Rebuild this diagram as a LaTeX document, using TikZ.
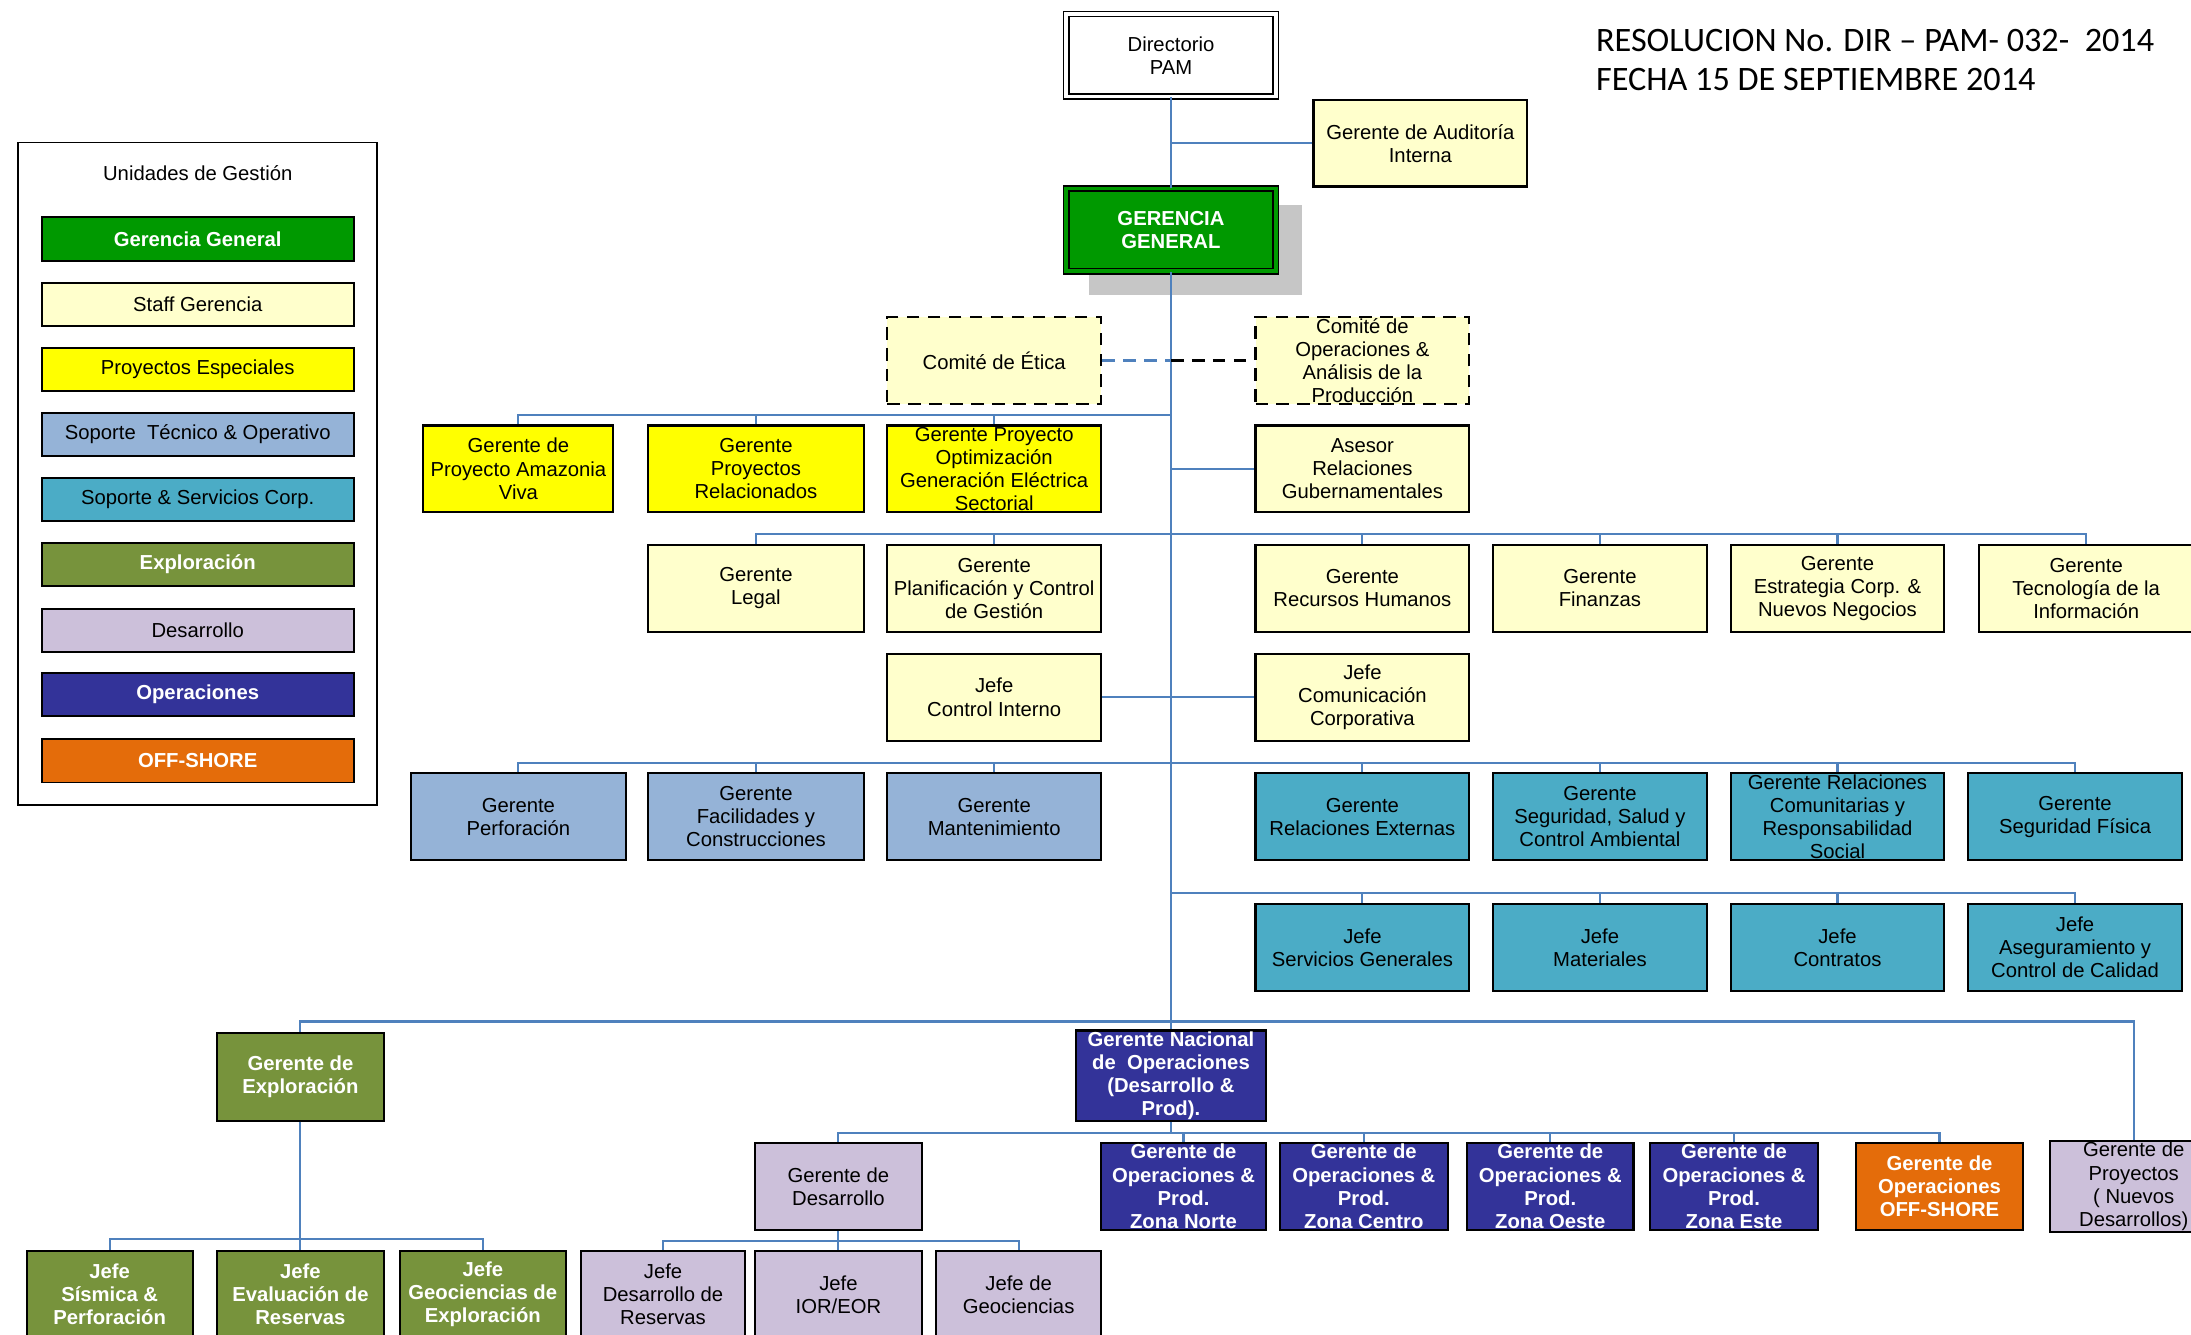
\documentclass[tikz,border=0pt]{standalone}
\usepackage{fontspec}
\setmainfont{Liberation Sans}
\newfontfamily\titlefont{Carlito}
\definecolor{lyellow}{HTML}{FFFFCC}
\definecolor{pyellow}{HTML}{FFFF00}
\definecolor{ggreen}{HTML}{009900}
\definecolor{steel}{HTML}{95B3D7}
\definecolor{teal2}{HTML}{4BACC6}
\definecolor{olive2}{HTML}{77933C}
\definecolor{lav2}{HTML}{CCC0DA}
\definecolor{navy2}{HTML}{333399}
\definecolor{orange2}{HTML}{E46C0A}
\definecolor{lineblue}{HTML}{4F81BD}
\newcommand\bxf{\fontsize{14.5}{16.5}\selectfont}
\newcommand\bxfb{\fontsize{14.5}{16.5}\selectfont\bfseries}
\begin{document}
\begin{tikzpicture}[x=1pt,y=-1pt,
  box/.style={draw=black, line width=1.5pt, align=center, inner sep=1pt, font=\bxf, minimum width=153pt, minimum height=62pt},
  lyel/.style={box, fill=lyellow},
  yel/.style={box, fill=pyellow},
  stb/.style={box, fill=steel},
  tea/.style={box, fill=teal2},
  oli/.style={box, fill=olive2, text=white, font=\bxfb},
  nav/.style={box, fill=navy2, text=white, font=\bxfb},
  lav/.style={box, fill=lav2},
  ora/.style={box, fill=orange2, text=white, font=\bxfb},
  dsh/.style={dash pattern=on 9pt off 6pt},
  conn/.style={draw=lineblue, line width=1.5pt},
  legitem/.style={draw=black, line width=1.4pt, minimum width=223pt, minimum height=31pt, inner sep=0pt, font=\bxf}
]
\useasboundingbox (0,0) rectangle (1568,955);
\clip (0,0) rectangle (1568,955);
\fill[white] (0,0) rectangle (1568,955);

% title
\node[anchor=west, font=\titlefont\fontsize{24.5}{28}\selectfont, inner sep=0pt] (t1) at (1142,29) {RESOLUCION No. DIR – PAM- 032-\ \ 2014};
\node[anchor=west, font=\titlefont\fontsize{24.5}{28}\selectfont, inner sep=0pt] (t2) at (1142,57) {FECHA 15 DE SEPTIEMBRE 2014};

% legend
\node[draw=black, line width=1.2pt, minimum width=257pt, minimum height=474pt, inner sep=0pt] (leg) at (141.5,339) {};
\node[font=\bxf] (legt) at (141.5,124) {Unidades de Gestión};
\node[legitem, fill=ggreen, text=white, font=\bxfb] (l1) at (141.5,171) {Gerencia General};
\node[legitem, fill=lyellow] (l2) at (141.5,218) {Staff Gerencia};
\node[legitem, fill=pyellow] (l3) at (141.5,264.5) {Proyectos Especiales};
\node[legitem, fill=steel] (l4) at (141.5,311) {Soporte\ \ Técnico \& Operativo};
\node[legitem, fill=teal2] (l5) at (141.5,357.5) {Soporte \& Servicios Corp.};
\node[legitem, fill=olive2, text=white, font=\bxfb] (l6) at (141.5,404) {Exploración};
\node[legitem, fill=lav2] (l7) at (141.5,451) {Desarrollo};
\node[legitem, fill=navy2, text=white, font=\bxfb] (l8) at (141.5,497) {Operaciones};
\node[legitem, fill=orange2, text=white, font=\bxfb] (l9) at (141.5,544.5) {OFF-SHORE};

% top
\node[box, fill=white, line width=1.2pt, double=white, double distance=2.5pt, minimum width=150pt, minimum height=59pt] (dir) at (838,39.5) {Directorio\\PAM};
\node[lyel] (aud) at (1016.5,102.5) {Gerente de Auditoría\\Interna};
\fill[gray!45] (779,147) rectangle (932,211);
\node[box, fill=ggreen, line width=1.2pt, double=ggreen, double distance=2.5pt, minimum width=150pt, minimum height=59pt, text=white, font=\bxfb] (gg) at (838,164.5) {GERENCIA\\GENERAL};

% comites
\node[lyel, dsh] (etica) at (711.5,258) {Comité de Ética};
\node[lyel, dsh] (cop) at (975,258) {Comité de\\Operaciones \&\\Análisis de la\\Producción};

% row 1
\node[yel, minimum width=136pt] (amaz) at (371,335.5) {Gerente de\\Proyecto Amazonia\\Viva};
\node[yel, minimum width=154pt] (prel) at (541,335.5) {Gerente\\Proyectos\\Relacionados};
\node[yel] (opt) at (711.5,335.5) {Gerente Proyecto\\Optimización\\Generación Eléctrica\\Sectorial};
\node[lyel] (ases) at (975,335.5) {Asesor\\Relaciones\\Gubernamentales};

% row 2
\node[lyel, minimum width=154pt] (legal) at (541,421) {Gerente\\Legal};
\node[lyel] (plan) at (711.5,421) {Gerente\\Planificación y Control\\de Gestión};
\node[lyel] (rrhh) at (975,421) {Gerente\\Recursos Humanos};
\node[lyel] (fin) at (1145,421) {Gerente\\Finanzas};
\node[lyel] (estr) at (1315,421) {Gerente\\Estrategia Corp. \&\\Nuevos Negocios};
\node[lyel] (tec) at (1493,421) {Gerente\\Tecnología de la\\Información};

% row 3
\node[lyel] (ci) at (711.5,499) {Jefe\\Control Interno};
\node[lyel] (cc) at (975,499) {Jefe\\Comunicación\\Corporativa};

% row 4
\node[stb, minimum width=154pt] (perf) at (371,584.5) {Gerente\\Perforación};
\node[stb, minimum width=154pt] (faci) at (541,584.5) {Gerente\\Facilidades y\\Construcciones};
\node[stb] (mant) at (711.5,584.5) {Gerente\\Mantenimiento};
\node[tea] (rext) at (975,584.5) {Gerente\\Relaciones Externas};
\node[tea] (ssa) at (1145,584.5) {Gerente\\Seguridad, Salud y\\Control Ambiental};
\node[tea] (rcom) at (1315,584.5) {Gerente Relaciones\\Comunitarias y\\Responsabilidad\\Social};
\node[tea] (sfis) at (1485,584.5) {Gerente\\Seguridad Física};

% row 5
\node[tea] (sgen) at (975,678) {Jefe\\Servicios Generales};
\node[tea] (mat) at (1145,678) {Jefe\\Materiales};
\node[tea] (cont) at (1315,678) {Jefe\\Contratos};
\node[tea] (aseg) at (1485,678) {Jefe\\Aseguramiento y\\Control de Calidad};

% lower part
\node[oli, minimum width=120pt, minimum height=63pt] (expl) at (215,770.5) {Gerente de\\Exploración};
\node[nav, minimum width=136pt, minimum height=64pt] (nac) at (838,770) {Gerente Nacional\\de\ \ Operaciones\\(Desarrollo \&\\Prod).};

\node[lav, minimum width=120pt] (desa) at (600,849) {Gerente de\\Desarrollo};
\node[nav, minimum width=118pt] (zn) at (847,849) {Gerente de\\Operaciones \&\\Prod.\\Zona Norte};
\node[nav, minimum width=120pt] (zc) at (976,849) {Gerente de\\Operaciones \&\\Prod.\\Zona Centro};
\node[nav, minimum width=119pt] (zo) at (1109.5,849) {Gerente de\\Operaciones \&\\Prod.\\Zona Oeste};
\node[nav, minimum width=120pt] (ze) at (1241,849) {Gerente de\\Operaciones \&\\Prod.\\Zona Este};
\node[ora, minimum width=120pt] (off) at (1388,849) {Gerente de\\Operaciones\\OFF-SHORE};
\node[lav, minimum width=120pt] (proy) at (1527,849) {Gerente de\\Proyectos\\( Nuevos\\Desarrollos)};

\node[oli, minimum width=119pt, minimum height=63pt] (sism) at (78.5,926.5) {Jefe\\Sísmica \&\\Perforación};
\node[oli, minimum width=120pt, minimum height=63pt] (eval) at (215,926.5) {Jefe\\Evaluación de\\Reservas};
\node[oli, minimum width=119pt, minimum height=63pt] (geoe) at (345.5,926.5) {Jefe\\Geociencias de\\Exploración};
\node[lav, minimum width=117pt, minimum height=63pt] (dres) at (474.5,926.5) {Jefe\\Desarrollo de\\Reservas};
\node[lav, minimum width=120pt, minimum height=63pt] (ior) at (600,926.5) {Jefe\\IOR/EOR};
\node[lav, minimum width=118pt, minimum height=63pt] (geoc) at (729,926.5) {Jefe de\\Geociencias};

% connectors
\coordinate (b1) at (838,297);
\coordinate (b2) at (838,382);
\coordinate (b4) at (838,546);
\coordinate (b5) at (838,639);
\coordinate (b6) at (838,731);
\coordinate (b7) at (838,811);
\coordinate (b8) at (600,888);
\coordinate (b9) at (215,887);

\draw[conn] (dir.south) -- (gg.north);
\draw[conn] (gg.south) -- (nac.north);
\draw[conn] (dir.south |- aud.west) -- (aud.west);
\draw[conn, dsh] (etica.east) -- (gg.south |- etica.east);
\draw[line width=1.5pt, black, dsh] (gg.south |- cop.west) -- (cop.west);

\draw[conn] (b1) -| (amaz.north);
\draw[conn] (prel.north) -- (prel.north |- b1);
\draw[conn] (opt.north) -- (opt.north |- b1);
\draw[conn] (gg.south |- ases.west) -- (ases.west);

\draw[conn] (legal.north) |- (tec.north |- b2) -- (tec.north);
\foreach \n in {plan,rrhh,fin,estr} \draw[conn] (\n.north) -- (\n.north |- b2);

\draw[conn] (ci.east) -- (cc.west);

\draw[conn] (perf.north) |- (sfis.north |- b4) -- (sfis.north);
\foreach \n in {faci,mant,rext,ssa,rcom} \draw[conn] (\n.north) -- (\n.north |- b4);

\draw[conn] (b5) -| (aseg.north);
\foreach \n in {sgen,mat,cont} \draw[conn] (\n.north) -- (\n.north |- b5);

\draw[conn] (expl.north) |- (proy.north |- b6) -- (proy.north);

\draw[conn] (nac.south) -- (b7);
\draw[conn] (desa.north) |- (off.north |- b7) -- (off.north);
\foreach \n in {zn,zc,zo,ze} \draw[conn] (\n.north) -- (\n.north |- b7);

\draw[conn] (desa.south) -- (ior.north);
\draw[conn] (dres.north) |- (geoc.north |- b8) -- (geoc.north);

\draw[conn] (expl.south) -- (eval.north);
\draw[conn] (sism.north) |- (geoe.north |- b9) -- (geoe.north);
\end{tikzpicture}
\end{document}
